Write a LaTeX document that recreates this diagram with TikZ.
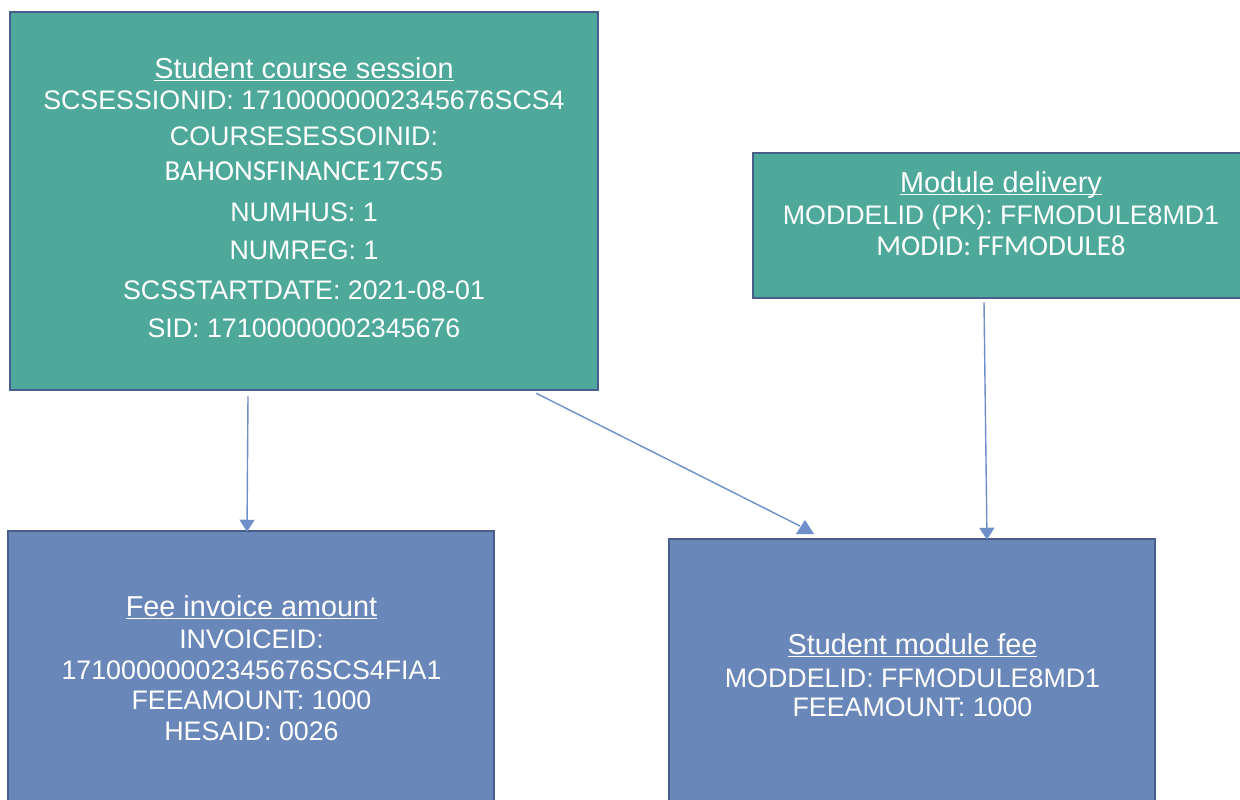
\documentclass[tikz,border=0pt]{standalone}
\usepackage{fontspec}
\setmainfont{Liberation Sans}
\newfontfamily\calfont{Carlito}
\usetikzlibrary{arrows.meta}
\definecolor{tealfill}{HTML}{4EA99A}
\definecolor{bluefill}{HTML}{6A87B9}
\definecolor{edgecol}{HTML}{4A5E8E}
\definecolor{arrcol}{HTML}{6F8FCB}
\newcommand\myul[1]{\begingroup\setbox0\hbox{#1}\rlap{\rule[-3pt]{\wd0}{1.7pt}}\box0\endgroup}
\newcommand\tfont{\fontsize{28.8}{31}\selectfont}
\newcommand\cfont{\calfont\fontsize{29}{31}\selectfont}
\tikzset{
  ebox/.style={draw=edgecol, line width=2.5pt, inner sep=0pt},
  tealbox/.style={ebox, fill=tealfill},
  bluebox/.style={ebox, fill=bluefill},
  btext/.style={text=white, align=center, inner sep=0pt, anchor=north,
    font=\fontsize{26.8}{31}\selectfont},
  conn/.style={draw=arrcol, line width=1.4pt},
  arr/.style={conn, -{Triangle[width=15pt,length=12pt]}}
}
\begin{document}
\begin{tikzpicture}[x=1pt, y=-1pt]
\useasboundingbox[fill=white] (0,0) rectangle (1240,800);
% boxes
\node[tealbox, minimum width=588pt, minimum height=378pt] (scs) at (304,201) {};
\node[tealbox, minimum width=497pt, minimum height=145pt] (md) at (1001.5,225.5) {};
\node[bluebox, minimum width=486pt, minimum height=319pt] (fee) at (251,690.5) {};
\node[bluebox, minimum width=486pt, minimum height=311pt] (smf) at (912,694.5) {};
% texts
\node[btext] (scstext) at (304,57.2) {%
{\tfont\myul{Student course session}}\\
SCSESSIONID: 17100000002345676SCS4\\[5pt]
COURSESESSOINID:\\[4pt]
{\cfont BAHONSFINANCE17CS5}\\[10pt]
NUMHUS: 1\\[7pt]
NUMREG: 1\\[9pt]
SCSSTARTDATE: 2021-08-01\\[7pt]
SID: 17100000002345676};
\node[btext] (mdtext) at (1001,171.2) {%
{\tfont\myul{Module delivery}}\\[1pt]
MODDELID (PK): FFMODULE8MD1\\
{\cfont MODID: FFMODULE8}};
\node[btext] (feetext) at (251.5,595.2) {%
{\tfont\myul{Fee invoice amount}}\\[1pt]
INVOICEID:\\
17100000002345676SCS4FIA1\\[-1pt]
FEEAMOUNT: 1000\\
HESAID: 0026};
\node[btext] (smftext) at (912.5,633.2) {%
{\tfont\myul{Student module fee}}\\[2pt]
MODDELID: FFMODULE8MD1\\[-2pt]
FEEAMOUNT: 1000};
% connectors
\draw[arr] ([xshift=-56pt,yshift=-5pt]scs.south) -- ([xshift=-4pt,yshift=-2pt]fee.north);
\draw[arr] ([xshift=-17.5pt,yshift=-3pt]md.south) -- ([xshift=75pt,yshift=-2pt]smf.north);
\coordinate (a2end) at (800,526);
\draw[conn] ([xshift=-63pt,yshift=-2pt]scs.south east) -- (a2end);
\fill[arrcol] ([xshift=-4pt,yshift=-8pt]a2end) -- ([xshift=14pt,yshift=-8pt]a2end) -- ([xshift=5pt,yshift=6pt]a2end) -- cycle;
\end{tikzpicture}
\end{document}
